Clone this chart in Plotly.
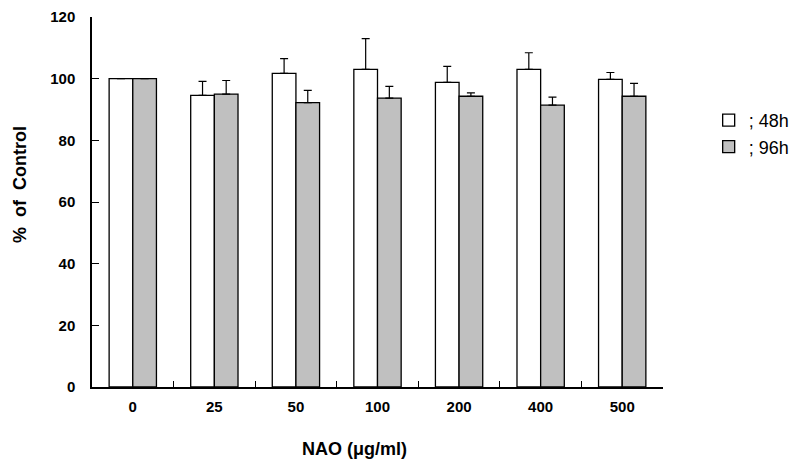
import plotly.graph_objects as go

categories = ["0", "25", "50", "100", "200", "400", "500"]
h48_values = [100.0, 94.6, 101.7, 103.0, 98.8, 103.0, 99.8]
h48_errors = [0.0, 4.5, 4.8, 10.0, 5.2, 5.4, 2.2]
h96_values = [100.0, 95.0, 92.2, 93.7, 94.3, 91.4, 94.3]
h96_errors = [0.0, 4.4, 4.0, 3.8, 1.1, 2.6, 4.2]
y_ticks = [0, 20, 40, 60, 80, 100, 120]

FONT = "Liberation Sans, Arial, sans-serif"

fig = go.Figure()
fig.add_trace(go.Bar(
    x=categories, y=h48_values, name="; 48h",
    marker=dict(color="white", line=dict(color="black", width=1.3)),
    error_y=dict(type="data", array=h48_errors, arrayminus=[0] * len(h48_errors),
                 symmetric=False, color="black", thickness=1.2, width=4),
))
fig.add_trace(go.Bar(
    x=categories, y=h96_values, name="; 96h",
    marker=dict(color="#c0c0c0", line=dict(color="black", width=1.3)),
    error_y=dict(type="data", array=h96_errors, arrayminus=[0] * len(h96_errors),
                 symmetric=False, color="black", thickness=1.2, width=4),
))

# page body adds an 8px offset, so the figure is sized/shifted to compensate
PLOT_H = 463 - 9 - 84
fig.update_layout(
    width=791, height=463,
    margin=dict(l=84, r=136, t=9, b=84, autoexpand=False),
    paper_bgcolor="white", plot_bgcolor="white",
    barmode="group", bargap=0.42, bargroupgap=0,
    font=dict(family=FONT, color="black"),
    showlegend=True,
    legend=dict(x=1.08, y=1 - (94 - 9) / PLOT_H, xanchor="left", yanchor="top",
                font=dict(family=FONT, size=18, color="black"),
                itemwidth=30, tracegroupgap=0, bgcolor="rgba(0,0,0,0)"),
    xaxis=dict(
        type="category", range=[-0.5, 6.5], automargin=False,
        showline=True, linecolor="black", linewidth=1.5,
        ticks="inside", tickson="boundaries", ticklen=6, tickcolor="black", tickwidth=1.2,
        tickfont=dict(family=FONT, size=15, color="black", weight="bold"),
        ticklabelstandoff=5,
        showgrid=False, zeroline=False,
    ),
    yaxis=dict(
        range=[0, 120], tickvals=y_ticks, automargin=False,
        ticklabeloverflow="allow",
        showline=True, linecolor="black", linewidth=1.5,
        ticks="inside", ticklen=7, tickcolor="black", tickwidth=1.2,
        tickfont=dict(family=FONT, size=15, color="black", weight="bold"),
        ticklabelstandoff=12,
        showgrid=False, zeroline=False,
    ),
    annotations=[
        dict(text="NAO (μg/ml)", xref="paper", yref="paper",
             x=(354.5 - 92) / 571, y=-(441 - 379) / PLOT_H, xanchor="center", yanchor="middle",
             showarrow=False, font=dict(family=FONT, size=18, color="black", weight="bold")),
        dict(text="%  of  Control", xref="paper", yref="paper", textangle=-90,
             x=-(92 - 20) / 571, y=(379 - 177) / PLOT_H, xanchor="center", yanchor="middle",
             showarrow=False, font=dict(family=FONT, size=18, color="black", weight="bold")),
    ],
)

fig.write_html("out.html")
